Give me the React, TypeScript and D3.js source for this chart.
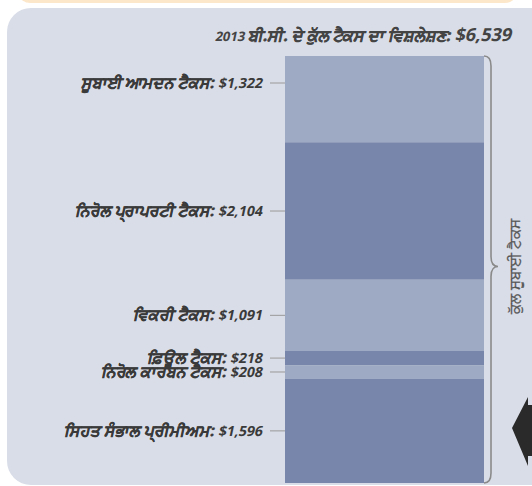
import * as d3 from "d3";

// 2013 BC total tax breakdown
const categories = [
  "ਸੂਬਾਈ ਆਮਦਨ ਟੈਕਸ",
  "ਨਿਰੋਲ ਪ੍ਰਾਪਰਟੀ ਟੈਕਸ",
  "ਵਿਕਰੀ ਟੈਕਸ",
  "ਫ਼ਿਊਲ ਟੈਕਸ",
  "ਨਿਰੋਲ ਕਾਰਬਨ ਟੈਕਸ",
  "ਸਿਹਤ ਸੰਭਾਲ ਪ੍ਰੀਮੀਅਮ",
];
const values = [1322, 2104, 1091, 218, 208, 1596];
const titleYear = "2013 ";
const titleText = "ਬੀ.ਸੀ. ਦੇ ਕੁੱਲ ਟੈਕਸ ਦਾ ਵਿਸ਼ਲੇਸ਼ਣ: ";
const braceLabel = "ਕੁੱਲ ਸੂਬਾਈ ਟੈਕਸ";

const W = 532;
const H = 486;
const FONT = "'Open Sans', 'Noto Sans', sans-serif";

export default function App() {
  const total = d3.sum(values);
  const ends = Array.from(d3.cumsum(values));
  const starts = ends.map((e, i) => e - values[i]);

  const barX0 = 285;
  const barX1 = 484;
  const y = d3.scaleLinear().domain([0, total]).range([56, 483]);
  const fmt = d3.format("$,");
  const colors = ["#9eaac3", "#7886ab"];

  const yTop = y(0);
  const yBot = y(total);
  const yMid = (yTop + yBot) / 2 - 3;
  const bx = 491;
  const brace = `M${barX1},${yTop} Q${bx},${yTop} ${bx},${yTop + 10}
    L${bx},${yMid - 10} Q${bx},${yMid} ${bx + 7},${yMid}
    Q${bx},${yMid} ${bx},${yMid + 10}
    L${bx},${yBot - 10} Q${bx},${yBot} ${barX1},${yBot}`;

  // the Gurmukhi fallback font has no bold/italic, so fake both
  const fauxBold = { stroke: "currentColor", strokeWidth: 0.45 };

  return (
    <svg
      width={W}
      height={H}
      style={{ position: "absolute", left: 0, top: 0 }}
      fontFamily={FONT}
    >
      <rect x={0} y={0} width={W} height={H} fill="#ffffff" />
      <rect x={20} y={-12} width={495} height={15} rx={10} fill="#fde7cb" />
      <rect x={7} y={8} width={560} height={477} rx={24} fill="#d9dde7" />

      <text
        transform="translate(511,41) skewX(-12)"
        textAnchor="end"
        fontWeight="bold"
        fill="#444"
        color="#444"
        fontSize={13}
      >
        {titleYear}
        <tspan fontSize={16} {...fauxBold}>{titleText}</tspan>
        <tspan fontSize={18}>{fmt(total)}</tspan>
      </text>

      {values.map((v, i) => (
        <rect
          key={i}
          x={barX0}
          y={y(starts[i])}
          width={barX1 - barX0}
          height={y(ends[i]) - y(starts[i])}
          fill={colors[i % 2]}
        />
      ))}

      {values.map((v, i) => {
        const ly = i === 0 ? y(starts[i]) + 27 : (y(starts[i]) + y(ends[i])) / 2;
        return (
          <g key={i}>
            <line x1={270} x2={barX0} y1={ly} y2={ly} stroke="#999" strokeWidth={1} />
            <text
              transform={`translate(263,${ly}) skewX(-12)`}
              dy="0.35em"
              textAnchor="end"
              fontWeight="bold"
              fontSize={14}
              fill="#3a3a3a"
              color="#3a3a3a"
            >
              <tspan fontSize={15.5} {...fauxBold}>{`${categories[i]}: `}</tspan>
              {fmt(v)}
            </text>
          </g>
        );
      })}

      <path d={brace} fill="none" stroke="#8a8a8a" strokeWidth={1.6} />
      <text
        transform={`translate(520,${yMid}) rotate(-90)`}
        textAnchor="middle"
        fontSize={15}
        fill="#555"
        stroke="#555"
        strokeWidth={0.3}
      >
        {braceLabel}
      </text>

      <path
        d="M528,397 L512,428 L528,466 L528,456 L532,456 L532,405 L528,405 Z"
        fill="#2a2a2a"
      />
    </svg>
  );
}
